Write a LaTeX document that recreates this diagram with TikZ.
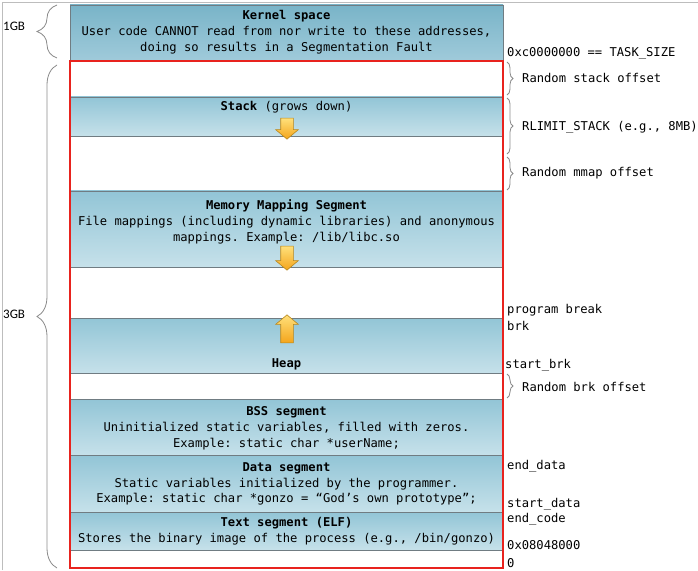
\documentclass[tikz,border=0pt]{standalone}
\usepackage{fontspec}
\setmonofont{DejaVu Sans Mono}
\setsansfont{Carlito}
\usetikzlibrary{decorations.pathreplacing,shapes.arrows}
\definecolor{segtop}{HTML}{92C5D6}
\definecolor{segbot}{HTML}{C6E1EA}
\definecolor{kertop}{HTML}{79B4C8}
\definecolor{kerbot}{HTML}{9FCADA}
\definecolor{edge}{HTML}{707C82}
\definecolor{framegray}{HTML}{BDBDBD}
\definecolor{bracegray}{HTML}{8A8A8A}
\definecolor{arrtop}{HTML}{FFE07A}
\definecolor{arrbot}{HTML}{F4A51C}
\definecolor{arredge}{HTML}{B7861C}
\definecolor{memred}{HTML}{E8231E}
\tikzset{
  seg/.style={rectangle, draw=edge, line width=0.9bp, minimum width=433bp, inner sep=0pt, outer sep=0pt, anchor=north west, top color=segtop, bottom color=segbot},
  kseg/.style={seg, top color=kertop, bottom color=kerbot},
  redbox/.style={rectangle, draw=memred, line width=2.2bp, minimum width=433bp, inner sep=0pt, outer sep=0pt, anchor=north west},
  txt/.style={inner sep=0pt, align=center, font=\fontsize{12.15bp}{15.8bp}\selectfont\ttfamily},
  rlab/.style={inner sep=0pt, anchor=west, font=\fontsize{12.15bp}{15.8bp}\selectfont\ttfamily},
  llab/.style={inner sep=0pt, anchor=west, font=\fontsize{13bp}{15bp}\selectfont\sffamily},
  bigbrace/.style={draw=bracegray, line width=0.8bp, decorate, decoration={brace, amplitude=20bp}},
  smallbrace/.style={draw=bracegray, line width=0.8bp, decorate, decoration={brace, amplitude=6bp}},
  growarrow/.style={single arrow, draw=arredge, line width=0.6bp, top color=arrtop, bottom color=arrbot, inner sep=6bp, minimum width=22bp, single arrow head extend=5bp, single arrow tip angle=100},
}
\begin{document}
\begin{tikzpicture}[x=1bp, y=-1bp]
\useasboundingbox (0,0) rectangle (698,571);
% window frame
\coordinate (fbl) at (2.5,570);
\coordinate (ftl) at (2.5,2.5);
\coordinate (ftr) at (698,2.5);
\draw[framegray, line width=1bp] (fbl) -- (ftl) -- (ftr);
% kernel
\node[kseg, minimum height=55bp] (kernel) at (70,5) {};
\node[txt] (kerneltxt) at (286.5,32) {\textbf{Kernel space}\\User code CANNOT read from nor write to these addresses,\\doing so results in a Segmentation Fault};
% user space background
\node[rectangle, fill=white, minimum width=433bp, minimum height=507bp, inner sep=0pt, anchor=north west] (userbg) at (70,61) {};
% segments
\node[seg, minimum height=39bp] (stack) at (70,97) {};
\node[seg, minimum height=76bp] (mms) at (70,191) {};
\node[seg, minimum height=55bp] (heap) at (70,318) {};
\node[seg, minimum height=56bp] (bss) at (70,399) {};
\node[seg, minimum height=57bp] (data) at (70,455) {};
\node[seg, minimum height=38bp] (text) at (70,512) {};
% texts
\node[txt] (stacktxt) at (286.5,107) {\textbf{Stack} (grows down)};
\node[txt] (mmstxt) at (286.5,222) {\textbf{Memory Mapping Segment}\\File mappings (including dynamic libraries) and anonymous\\mappings. Example: /lib/libc.so};
\node[txt] (heaptxt) at (286.5,364) {\textbf{Heap}};
\node[txt] (bsstxt) at (286.5,428) {\textbf{BSS segment}\\Uninitialized static variables, filled with zeros.\\Example: static char *userName;};
\node[txt] (datatxt) at (286.5,484) {\textbf{Data segment}\\Static variables initialized by the programmer.\\Example: static char *gonzo = “God’s own prototype”;};
\node[txt] (texttxt) at (286.5,531) {\textbf{Text segment (ELF)}\\Stores the binary image of the process (e.g., /bin/gonzo)};
% growth arrows
\node[growarrow, shape border rotate=270, minimum height=21bp] (stackarrow) at (287,126) {};
\node[growarrow, shape border rotate=270, minimum height=24bp] (mmsarrow) at (287,255.5) {};
\node[growarrow, shape border rotate=90, minimum height=28bp] (heaparrow) at (287,331.5) {};
% red user-space frame
\node[redbox, minimum height=507bp] (user) at (70,61) {};
% left braces
\coordinate (b1a) at (57,58);
\coordinate (b1b) at (57,5);
\draw[bigbrace] (b1a) -- (b1b);
\coordinate (b3a) at (57,568);
\coordinate (b3b) at (57,65);
\draw[bigbrace] (b3a) -- (b3b);
\node[llab] (gb1) at (3,26) {1GB};
\node[llab] (gb3) at (3,314) {3GB};
% right braces
\coordinate (r1a) at (507,62);
\coordinate (r1b) at (507,95);
\draw[smallbrace] (r1a) -- (r1b);
\coordinate (r2a) at (507,98);
\coordinate (r2b) at (507,154);
\draw[smallbrace] (r2a) -- (r2b);
\coordinate (r3a) at (507,157);
\coordinate (r3b) at (507,190);
\draw[smallbrace] (r3a) -- (r3b);
\coordinate (r4a) at (507,374);
\coordinate (r4b) at (507,398);
\draw[smallbrace] (r4a) -- (r4b);
% right labels
\node[rlab] (tasksize) at (507,53) {0xc0000000 == TASK\_SIZE};
\node[rlab] (rso) at (522,78) {Random stack offset};
\node[rlab] (rlim) at (522,127) {RLIMIT\_STACK (e.g., 8MB)};
\node[rlab] (rmo) at (522,173) {Random mmap offset};
\node[rlab] (pbrk) at (507,310) {program break};
\node[rlab] (brk) at (507,326) {brk};
\node[rlab] (sbrk) at (505,365) {start\_brk};
\node[rlab] (rbo) at (522,387) {Random brk offset};
\node[rlab] (edata) at (507,466) {end\_data};
\node[rlab] (sdata) at (507,504) {start\_data};
\node[rlab] (ecode) at (507,519) {end\_code};
\node[rlab] (textaddr) at (507,545) {0x08048000};
\node[rlab] (zero) at (507,563) {0};
\end{tikzpicture}
\end{document}
